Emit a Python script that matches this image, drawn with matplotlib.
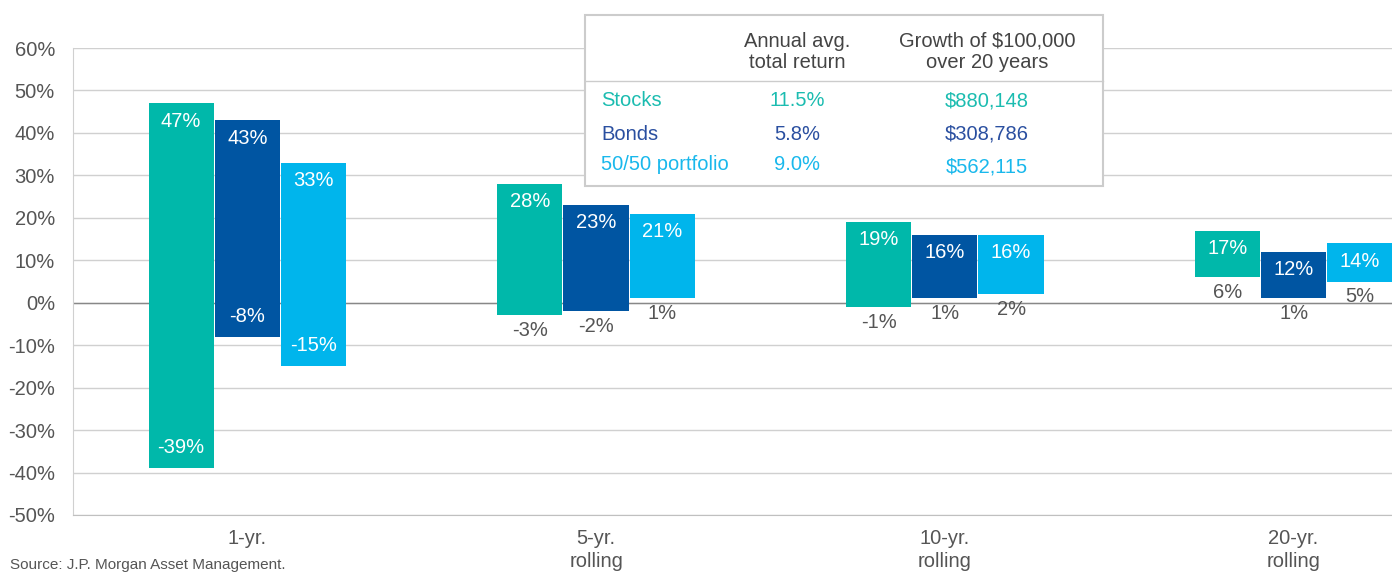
import matplotlib.pyplot as plt
import matplotlib.patches as mpatches
import numpy as np

plt.rcParams["font.family"] = ["Liberation Sans", "DejaVu Sans"]

# Range of returns per holding period (min, max) in %
periods = ["1-yr.", "5-yr.\nrolling", "10-yr.\nrolling", "20-yr.\nrolling"]
series = ["Stocks", "Bonds", "50/50 portfolio"]
lows = {
    "Stocks": [-39, -3, -1, 6],
    "Bonds": [-8, -2, 1, 1],
    "50/50 portfolio": [-15, 1, 2, 5],
}
highs = {
    "Stocks": [47, 28, 19, 17],
    "Bonds": [43, 23, 16, 12],
    "50/50 portfolio": [33, 21, 16, 14],
}
colors = {"Stocks": "#00b8aa", "Bonds": "#0055a2", "50/50 portfolio": "#00b5ec"}
text_colors = {"Stocks": "#1bbcb0", "Bonds": "#2a4fa0", "50/50 portfolio": "#19b8ec"}

# Summary table
avg_return = ["11.5%", "5.8%", "9.0%"]
growth = ["$880,148", "$308,786", "$562,115"]

W, H = 1392, 574
fig = plt.figure(figsize=(W / 100, H / 100), dpi=100)
ax = fig.add_axes([73 / W, 1 - 515 / H, 1 - 73 / W, (515 - 48) / H])

x = np.arange(len(periods))
width = 0.187
offsets = [-0.19, 0.0, 0.19]
grey = "#555555"
fs = 14.5

for s, off in zip(series, offsets):
    lo = np.array(lows[s])
    hi = np.array(highs[s])
    ax.bar(x + off, hi - lo, bottom=lo, width=width, color=colors[s], zorder=3)
    for xi, l, h in zip(x + off, lo, hi):
        ax.annotate(f"{h}%", (xi, h), xytext=(0, -6), textcoords="offset points",
                    ha="center", va="top", color="white", fontsize=fs, zorder=4)
        if h - l > 40:
            ax.annotate(f"{l}%", (xi, l), xytext=(0, 8), textcoords="offset points",
                        ha="center", va="bottom", color="white", fontsize=fs, zorder=4)
        else:
            ax.annotate(f"{l}%", (xi, l), xytext=(0, -4), textcoords="offset points",
                        ha="center", va="top", color=grey, fontsize=fs, zorder=4)

ax.set_ylim(-50, 60)
ax.set_xlim(-0.5, 3.5 - 76 / 349)
ax.set_yticks(range(-50, 61, 10))
ax.set_yticklabels([f"{v}%" for v in range(-50, 61, 10)])
ax.tick_params(axis="y", length=0, pad=13, labelsize=fs, labelcolor=grey)
ax.set_xticks(x)
ax.set_xticklabels(periods, linespacing=1.25)
ax.tick_params(axis="x", length=0, pad=10, labelsize=fs, labelcolor=grey)
ax.grid(axis="y", color="#d0d0d0", linewidth=1, zorder=0)
ax.axhline(0, color="#888888", linewidth=1, zorder=2)
for side in ["top", "right"]:
    ax.spines[side].set_visible(False)
ax.spines["left"].set_color("#d0d0d0")
ax.spines["bottom"].set_color("#c0c0c0")

# Summary table box
def fx(px):
    return px / W


def fy(py):
    return 1 - py / H


box = mpatches.Rectangle((fx(585), fy(186)), fx(1103) - fx(585), fy(15) - fy(186),
                         transform=fig.transFigure, facecolor="white",
                         edgecolor="#cccccc", linewidth=1.5, zorder=10)
fig.patches.append(box)
fig.add_artist(plt.Line2D([fx(585), fx(1103)], [fy(81), fy(81)], color="#cccccc",
                          linewidth=1, transform=fig.transFigure, zorder=11))
fig.text(fx(797), fy(52), "Annual avg.\ntotal return", ha="center", va="center",
         fontsize=fs, color="#444444", linespacing=1.15, zorder=12)
fig.text(fx(987), fy(52), "Growth of $100,000\nover 20 years", ha="center", va="center",
         fontsize=fs, color="#444444", linespacing=1.15, zorder=12)
row_y = [101, 134, 164]
for s, ar, g, ry in zip(series, avg_return, growth, row_y):
    c = text_colors[s]
    fig.text(fx(601), fy(ry), s, ha="left", va="center", fontsize=fs, color=c, zorder=12)
    fig.text(fx(797), fy(ry), ar, ha="center", va="center", fontsize=fs, color=c, zorder=12)
    fig.text(fx(987), fy(ry + (3 if s == "50/50 portfolio" else 0)), g, ha="center",
             va="center", fontsize=fs, color=c, zorder=12)

fig.text(fx(10), fy(572), "Source: J.P. Morgan Asset Management.", ha="left", va="bottom",
         fontsize=11, color=grey)

fig.savefig("out.png", dpi=100)
